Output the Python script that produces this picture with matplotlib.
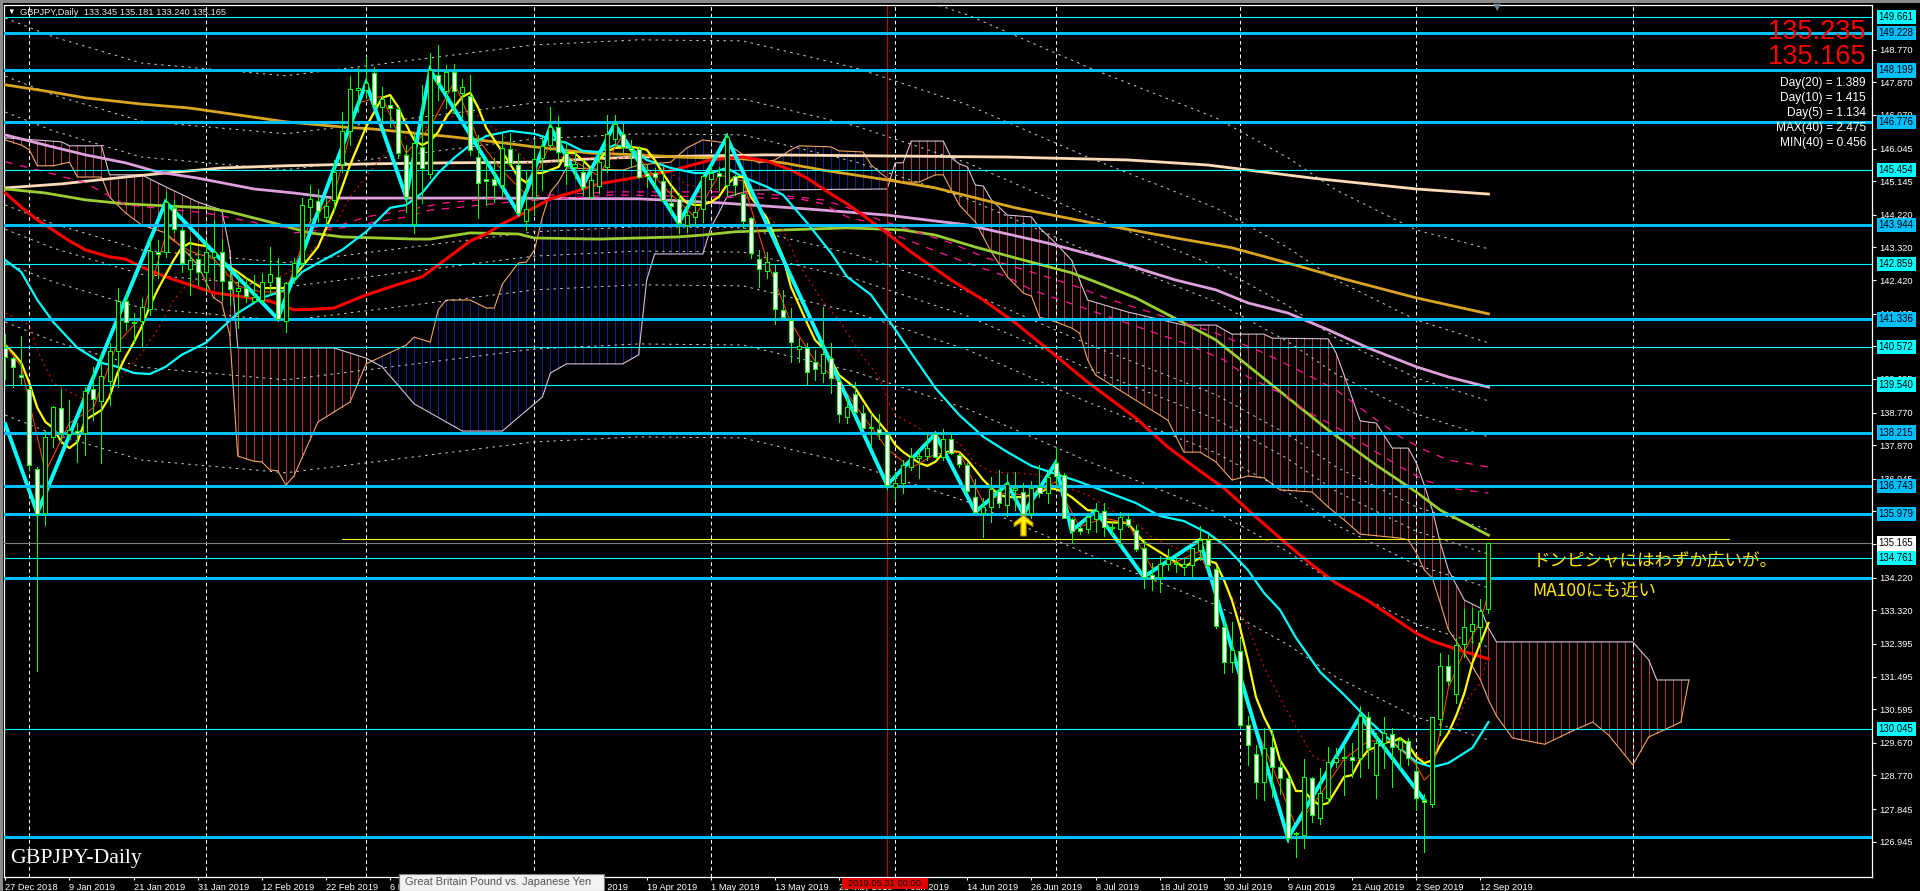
import numpy as np
import matplotlib
matplotlib.use('Agg')
import matplotlib.pyplot as plt
from matplotlib.path import Path
from matplotlib.patches import Rectangle

plt.rcParams['font.family'] = ['Liberation Sans', 'Noto Sans CJK JP', 'DejaVu Sans']

# daily candles, one value per bar
opens = [140.55,140.27,139.81,139.42,137.21,136.00,138.10,138.90,138.18,138.26,138.21,139.42,139.09,139.64,140.47,141.84,141.26,141.29,141.62,143.19,
143.19,144.41,143.80,142.73,143.00,142.64,143.06,143.19,142.40,142.12,142.20,141.84,141.87,142.37,142.51,141.29,142.51,142.89,144.43,144.60,
144.16,144.63,145.62,146.53,147.66,147.66,148.13,147.19,147.25,147.14,145.87,143.97,146.09,145.34,148.07,147.63,148.16,147.58,147.49,145.81,
145.21,145.21,145.04,146.03,145.59,144.05,144.71,145.79,146.14,146.64,145.92,145.54,145.40,144.71,145.01,145.54,146.31,146.45,146.06,146.03,
145.37,145.37,145.15,144.55,144.66,143.94,144.16,144.38,145.21,145.37,145.04,145.29,144.79,144.13,143.00,142.67,142.64,141.60,141.32,140.52,
140.55,140.16,139.86,140.27,139.64,138.65,139.28,138.76,138.37,138.32,138.18,136.72,136.83,137.27,137.52,137.57,138.18,137.55,138.04,137.60,
137.32,136.44,136.00,136.17,136.61,136.22,136.64,136.58,136.00,136.72,136.55,137.38,137.05,135.84,135.59,135.56,135.84,136.06,135.59,135.56,
135.84,135.53,135.04,134.29,134.24,134.60,134.60,134.51,134.57,134.98,135.26,134.46,132.86,131.90,132.20,130.16,129.36,128.59,129.55,129.00,
128.70,127.15,127.13,128.70,127.60,128.15,129.14,129.25,129.28,129.25,130.38,128.78,129.66,129.91,129.50,129.72,128.89,128.09,127.98,130.32,
131.78,131.01,132.39,132.75,132.86,133.345]
highs = [140.93,140.30,140.88,139.47,137.27,138.26,138.95,139.42,139.12,138.48,139.47,140.03,140.41,140.69,142.20,142.06,141.51,141.93,143.58,143.53,
144.85,144.63,143.86,143.61,143.25,143.53,144.08,143.55,142.70,142.51,142.51,142.56,142.62,143.33,143.03,142.37,143.03,144.68,145.04,144.93,
144.68,145.73,147.05,148.05,148.27,148.57,148.29,147.74,147.47,147.19,146.14,146.47,147.80,148.68,148.90,148.35,148.38,147.96,148.07,146.42,
145.81,145.79,146.45,146.47,145.90,145.45,146.28,146.36,147.19,146.94,146.20,145.95,145.73,145.51,145.95,146.98,146.98,146.72,146.28,146.12,
145.59,145.51,145.54,145.01,144.82,144.49,144.68,145.37,145.59,145.54,146.47,145.32,145.23,144.16,143.25,143.19,142.84,142.15,141.65,140.82,
140.69,140.49,141.68,140.69,139.67,139.17,139.61,138.98,138.76,138.73,138.21,137.13,137.46,137.79,137.77,138.21,138.21,138.32,138.21,137.66,
137.38,136.94,136.41,136.99,137.19,137.08,137.13,136.83,136.88,137.32,137.19,137.82,137.10,135.86,135.62,135.97,136.28,136.28,135.75,136.03,
136.00,135.67,135.26,134.62,134.82,135.01,134.84,134.76,135.04,135.64,135.40,134.51,133.05,133.00,132.56,130.41,129.61,130.08,130.05,129.25,
128.75,127.21,129.22,128.73,128.97,129.55,129.53,129.61,129.66,130.68,130.52,129.94,130.38,130.08,129.83,129.80,129.14,128.26,130.38,132.14,
132.09,132.56,133.36,133.38,133.63,135.181]
lows = [139.70,139.47,139.56,137.19,131.65,135.67,137.82,137.93,138.07,137.41,137.60,138.57,137.38,138.98,139.47,141.05,140.69,140.60,141.46,142.48,
143.06,143.75,142.64,142.01,142.29,142.09,142.42,141.87,141.73,141.10,141.82,141.82,141.79,142.01,141.32,140.99,142.34,142.78,144.02,144.02,
143.94,144.35,145.40,146.14,147.05,147.44,147.19,146.78,146.64,145.79,144.30,143.72,144.55,145.23,147.38,147.16,147.03,146.92,145.87,144.13,
144.49,144.57,144.71,145.59,144.25,143.80,144.21,144.90,146.01,145.67,145.07,145.23,144.77,144.69,144.82,145.40,146.14,145.95,145.54,145.23,
144.99,144.99,144.63,144.27,143.72,143.75,143.94,144.02,144.96,144.90,144.77,144.77,143.86,143.03,142.23,142.48,141.21,141.38,140.16,140.16,
139.56,139.67,139.61,139.31,138.51,138.48,138.79,138.34,137.88,138.04,136.64,136.36,136.55,137.19,136.97,137.46,137.55,137.46,137.63,137.27,
136.58,136.03,135.34,135.75,136.17,135.92,136.08,135.73,135.86,136.44,136.28,136.69,135.86,135.17,135.42,135.45,135.48,135.37,135.40,135.09,
135.62,134.95,133.93,133.88,133.82,134.43,134.38,134.29,134.24,134.70,134.49,132.83,131.59,131.62,130.10,129.06,128.15,128.09,128.17,128.26,
126.93,126.52,126.77,127.49,127.43,128.01,129.00,128.23,128.73,128.73,128.97,128.15,128.97,128.45,128.97,129.06,127.82,126.66,127.90,129.88,
131.26,130.77,132.03,132.42,132.36,133.240]
closes = [140.30,140.03,139.75,137.32,135.97,138.10,138.92,138.21,138.29,138.21,139.36,139.14,139.78,140.47,141.84,141.26,141.24,141.68,143.22,143.14,
144.57,143.83,142.89,142.97,142.64,143.19,143.19,142.40,142.18,142.20,141.98,141.95,142.37,142.59,141.35,142.34,142.89,144.49,144.66,144.33,
144.46,145.40,146.53,147.69,147.71,147.85,147.25,147.41,147.16,145.92,144.71,146.20,145.51,148.21,147.85,148.16,147.63,147.74,146.01,145.10,
145.15,145.04,146.06,145.65,144.27,144.38,145.76,146.12,146.64,145.95,145.56,145.62,144.99,145.18,145.67,146.45,146.72,146.09,146.01,145.26,
145.29,145.26,144.63,144.46,143.99,144.21,144.30,145.29,145.37,145.29,146.36,145.04,144.05,143.17,142.73,142.92,141.62,141.40,140.71,140.60,
139.89,139.97,140.38,139.72,138.73,138.92,138.79,138.34,138.34,138.21,136.77,136.83,137.32,137.55,137.57,137.79,137.55,138.04,137.66,137.35,
136.61,136.03,136.17,136.66,136.28,136.80,136.69,135.97,136.69,136.55,136.99,137.02,135.86,135.51,135.51,135.89,136.06,135.62,135.62,135.89,
135.67,135.01,134.24,134.18,134.60,134.73,134.62,134.60,135.04,135.26,134.57,132.89,131.90,132.23,130.16,129.61,128.59,129.53,129.00,128.70,
127.04,127.18,128.73,127.68,128.28,129.14,129.25,129.28,129.19,130.41,129.53,129.66,129.94,129.55,129.75,129.25,128.15,128.04,130.38,131.78,
131.37,132.36,132.86,132.94,133.30,135.165]

# zigzag vertices
zz_i = [0,4,20,34,45,50,53,64,68,72,76,84,90,110,116,121,125,127,131,133,136,142,149,160,169,177]
zz_p = [138.45,136.00,144.57,141.35,147.85,144.71,148.21,144.27,146.64,145.00,146.72,143.99,146.36,136.77,138.18,136.03,136.80,135.97,137.38,135.51,136.06,134.24,135.26,127.04,130.41,128.09]

# moving averages
ma_cyan_i = [0,2,4,6,9,12,14,16,18,20,22,25,27,29,32,35,37,39,42,45,48,50,52,54,56,58,60,63,66,68,70,72,74,76,78,80,83,86,88,90,92,95,97,100,103,105,108,110,113,116,119,122,125,128,131,134,137,141,144,147,150,152,155,157,159,161,164,167,170,173,176,178,180,183,185]
ma_cyan_p = [142.97,142.64,141.87,141.26,140.55,140.14,140.03,139.86,139.83,140.03,140.36,140.69,141.10,141.51,141.93,142.15,142.64,142.89,143.25,143.75,144.41,144.49,144.82,145.37,145.79,146.14,146.39,146.53,146.45,146.31,146.20,145.98,145.95,146.14,146.06,145.73,145.51,145.37,145.37,145.51,145.26,144.99,144.77,144.00,143.17,142.51,142.01,141.38,140.41,139.45,138.70,138.10,137.68,137.30,137.08,136.86,136.61,136.28,135.92,135.78,135.45,135.12,134.43,133.80,133.33,132.56,131.62,130.99,130.30,129.69,129.14,129.00,129.11,129.53,130.24]

ma_yellow_i = [0,1,2,3,4,5,6,7,8,9,10,11,12,13,14,15,16,17,18,19,20,21,22,23,24,25,26,27,28,29,30,31,32,33,34,35,36,37,39,41,43,45,47,48,49,50,51,52,53,54,55,56,57,58,59,60,62,64,65,66,67,69,70,71,72,73,74,75,76,78,79,80,81,82,83,84,85,86,87,88,89,90,91,92,93,95,97,98,100,101,102,103,104,106,108,110,111,112,114,115,116,117,118,119,120,121,122,123,124,125,127,128,129,130,131,132,133,135,136,137,140,142,145,147,149,151,152,153,154,155,156,157,158,159,160,161,162,163,164,165,166,167,168,169,170,171,172,173,174,175,176,177,178,179,180,181,182,183,184,185]
ma_yellow_p = [140.63,140.41,140.14,139.58,138.90,138.51,138.34,137.96,137.79,137.96,138.57,138.70,138.84,139.20,139.86,140.30,140.69,141.13,141.68,142.15,142.56,142.97,143.31,143.44,143.39,143.36,143.19,142.97,142.78,142.64,142.48,142.34,142.20,142.20,142.20,142.20,142.51,142.78,143.33,144.35,145.59,146.64,147.44,147.52,147.19,146.70,146.28,146.14,146.25,146.50,146.92,147.19,147.47,147.58,147.16,146.61,145.95,145.26,145.10,145.37,145.37,145.54,145.92,145.92,145.73,145.51,145.73,145.95,146.06,146.09,146.06,146.01,145.73,145.37,145.04,144.77,144.55,144.49,144.49,144.57,144.71,145.04,145.26,145.26,144.71,144.13,143.06,142.23,141.24,140.77,140.55,140.22,139.80,139.45,138.76,138.23,137.88,137.68,137.38,137.30,137.41,137.66,137.71,137.68,137.46,137.19,136.91,136.69,136.50,136.44,136.44,136.50,136.55,136.69,136.66,136.58,136.44,136.08,136.06,135.75,135.73,135.20,134.79,134.51,134.76,134.62,134.16,133.60,132.86,131.95,130.93,130.38,129.94,129.19,128.84,128.34,128.34,128.09,127.95,128.01,128.37,128.73,128.78,129.19,129.47,129.55,129.69,129.69,129.80,129.61,129.28,129.11,129.19,129.61,129.94,130.43,131.04,131.87,132.42,132.97]

ma_red_i = [0,2,4,8,10,13,15,17,20,23,26,29,33,36,39,41,45,48,52,55,58,60,62,65,68,71,74,79,83,88,92,95,98,100,103,105,109,113,118,122,126,130,135,141,145,149,152,156,160,163,166,170,176,178,181,185]
ma_red_p = [144.82,144.43,144.08,143.50,143.25,143.06,143.00,142.78,142.51,142.29,142.07,141.98,141.84,141.60,141.62,141.65,142.01,142.23,142.51,143.00,143.50,143.69,143.97,144.30,144.66,144.85,145.07,145.26,145.43,145.73,145.81,145.70,145.45,145.23,144.79,144.52,143.88,143.19,142.42,141.87,141.24,140.52,139.61,138.62,137.82,137.16,136.69,135.89,135.12,134.57,134.07,133.58,132.69,132.47,132.25,131.98]

ma_gold_i = [0,5,10,17,23,30,35,42,46,51,56,61,66,73,79,84,92,97,102,110,116,122,126,135,146,153,159,167,176,185]
ma_gold_p = [147.80,147.63,147.44,147.27,147.16,146.94,146.78,146.64,146.58,146.47,146.36,146.23,146.09,145.92,145.87,145.81,145.76,145.65,145.45,145.18,144.96,144.63,144.41,144.02,143.58,143.31,142.95,142.45,141.93,141.49]

ma_peach_i = [0,7,15,20,27,35,45,55,66,73,79,95,110,125,140,150,154,163,176,185]
ma_peach_p = [144.96,145.07,145.26,145.37,145.51,145.57,145.62,145.65,145.67,145.76,145.81,145.87,145.84,145.81,145.73,145.59,145.48,145.23,144.93,144.79]

ma_plum_i = [0,5,10,15,19,24,31,36,41,60,79,89,100,110,120,130,138,146,151,155,160,165,170,176,180,185]
ma_plum_p = [146.42,146.14,145.87,145.65,145.40,145.23,144.93,144.82,144.68,144.68,144.66,144.55,144.38,144.21,143.94,143.44,142.97,142.42,142.15,141.79,141.51,141.05,140.55,140.03,139.75,139.47]

ma_green_i = [0,5,10,15,25,28,33,38,42,51,53,58,64,66,74,79,84,87,91,97,105,112,116,121,126,133,136,141,147,151,158,165,171,176,179,185]
ma_green_p = [144.93,144.82,144.63,144.52,144.41,144.30,144.02,143.72,143.61,143.55,143.55,143.72,143.69,143.58,143.55,143.58,143.61,143.66,143.75,143.80,143.86,143.80,143.66,143.33,143.03,142.62,142.37,141.93,141.24,140.77,139.53,138.29,137.32,136.58,136.08,135.39]

# thin fast average and dashed average
fast_i = [0,2,5,8,11,14,17,20,23,26,29,32,35,38,41,44,47,50,53,56,59,62,65,68,71,74,77,80,83,86,89,92,95,98,101,104,107,110,113,116,119,122,125,128,131,134,137,140,143,146,149,152,155,158,161,164,167,170,173,176,177,178,180,182,184,185]
fast_p = [140.63,140.03,137.13,138.48,138.90,140.69,141.40,143.64,143.22,143.00,142.26,142.09,142.09,144.02,144.74,147.30,147.49,145.92,146.64,147.88,146.28,145.43,144.77,146.17,145.70,145.29,146.42,145.51,144.79,144.16,145.32,145.15,142.95,141.24,140.19,139.61,138.67,137.77,137.24,137.63,137.68,136.28,136.58,136.44,136.86,135.62,135.86,135.73,134.49,134.65,134.95,133.11,130.65,129.03,127.35,128.23,129.22,129.72,129.72,129.06,128.64,128.86,131.18,132.20,133.03,133.80]

dash_i = [0,3,4,6,8,10,13,15,17,19,21,23,28,32,36,38,41,43,46,48,50,53,58,62,66,70,75,80,85,90,93,97,99,102,104,105,107,109,110,111,114,115,119,121,123,126,129,130,135,138,141,143,146,149,151,153,155,157,160,163,164,169,172,175,177,181,182,184,185]
dash_p = [141.51,141.18,140.49,139.58,139.34,139.12,139.25,139.89,140.41,141.05,141.87,142.37,142.56,142.29,142.70,143.17,143.88,144.71,145.54,146.06,146.36,146.69,147.11,146.42,145.45,145.87,145.73,145.87,145.04,144.90,144.63,143.80,142.84,141.82,141.32,140.96,140.30,139.75,139.12,138.70,138.34,138.15,137.93,137.38,137.13,137.10,137.05,136.91,136.50,136.08,135.73,135.34,135.04,134.84,134.62,133.69,132.86,131.76,130.49,129.33,129.19,129.19,129.66,129.55,129.19,130.08,130.77,131.32,132.14]

pink_a_i = [0,5,10,15,25,34,41,45,50,55,63,76,90,96,102,106,109,113,118,122,125,128,133,138,151,157,162,166,171,174,177,180,185]
pink_a_p = [145.68,145.40,145.10,144.49,144.27,143.88,143.88,144.16,144.35,144.55,144.71,144.85,144.85,144.77,144.63,144.35,144.08,143.80,143.44,143.06,142.84,142.64,142.29,141.87,140.96,140.41,139.86,139.39,138.57,138.10,137.74,137.46,137.27]
pink_b_i = [36,42,50,53,56,63,76,99,102,105,108,111,115,120,125,128,147,152,155,160,162,166,174,177,180,185]
pink_b_p = [143.72,143.86,144.16,144.35,144.41,144.57,144.77,144.66,144.52,144.16,144.00,143.66,143.31,142.89,142.51,142.15,140.69,140.22,139.75,139.20,138.84,138.37,137.27,136.91,136.69,136.55]

# ichimoku cloud, runs past the last candle
span_a_i = [0,2,3,4,6,8,9,12,13,15,17,20,22,24,26,27,28,29,31,32,33,34,35,36,39,43,45,50,51,53,54,55,58,60,61,62,64,65,66,67,68,69,70,77,79,83,85,87,90,92,94,96,98,99,103,104,107,108,109,110,112,114,116,117,118,119,121,123,125,127,128,129,131,133,134,135,136,145,147,149,151,153,155,157,159,163,165,167,169,174,175,176,177,178,179,180,182,184,185,186,188,192,196,198,200,203,205,209,210]
span_a_p = [146.28,146.14,146.01,145.57,145.57,145.67,145.26,145.26,144.71,144.27,143.94,143.72,143.33,142.84,141.93,141.79,140.91,137.57,137.43,137.41,137.19,137.16,136.77,137.02,138.51,139.06,140.11,140.63,140.85,140.71,141.60,141.87,141.87,141.65,141.65,142.31,142.89,142.92,143.25,144.16,144.85,145.12,145.51,145.45,145.59,145.67,146.06,146.28,146.20,145.87,145.65,145.73,146.01,146.12,146.09,145.98,145.95,145.59,145.40,145.23,145.12,145.12,145.32,145.32,144.90,144.49,144.02,143.19,142.51,142.06,141.98,141.40,141.27,141.10,140.96,140.22,139.80,138.56,137.68,137.68,137.41,136.91,137.02,136.97,136.64,136.58,136.17,135.81,135.42,135.31,135.26,134.90,134.43,134.21,133.52,132.78,132.14,131.40,130.85,130.41,129.80,129.63,130.05,130.24,129.88,129.06,129.83,130.24,131.40]
span_b_i = [0,7,8,12,13,17,20,24,27,28,29,41,45,47,51,57,62,67,68,70,77,79,80,81,87,88,89,90,93,110,111,112,113,117,118,119,120,121,122,123,125,128,129,131,133,134,135,140,147,151,153,157,158,165,166,167,169,171,173,175,176,177,178,179,180,182,184,185,186,203,205,206,210]
span_b_p = [146.34,146.23,146.12,146.12,145.32,145.32,144.99,144.57,144.35,143.25,140.55,140.55,140.27,140.03,139.01,138.26,138.26,139.20,139.86,140.11,140.11,140.36,142.42,143.14,143.14,143.86,144.27,144.71,144.90,144.93,145.65,145.65,146.25,146.25,145.79,145.62,145.54,145.04,145.01,144.63,144.21,144.16,143.86,143.44,142.97,142.42,141.87,141.54,141.18,141.18,140.93,140.93,140.82,140.80,140.41,139.80,138.54,138.48,137.79,137.79,137.38,136.77,136.08,135.17,134.43,133.60,133.38,132.83,132.45,132.45,131.95,131.40,131.40]

# envelope bands, same bars for every band
band_i = [0,6,17,35,46,66,79,92,106,120,135,151,160,166,176,185]
band_0 = [152.12,151.60,150.88,150.53,150.83,151.38,151.52,151.49,150.75,149.73,148.29,146.89,145.79,144.90,143.80,143.28]
band_1 = [149.64,149.12,148.40,148.05,148.35,148.90,149.04,149.01,148.27,147.25,145.81,144.41,143.31,142.42,141.32,140.69]
band_2 = [148.04,147.52,146.80,146.45,146.75,147.30,147.44,147.41,146.67,145.65,144.21,142.81,141.71,140.82,139.72,139.09]
band_3 = [147.05,146.53,145.81,145.46,145.76,146.31,146.45,146.42,145.68,144.66,143.22,141.82,140.72,139.83,138.73,138.10]
band_4 = [144.49,143.97,143.25,142.90,143.20,143.75,143.89,143.86,143.12,142.10,140.66,139.26,138.16,137.27,136.17,135.54]
band_5 = [143.82,143.30,142.58,142.23,142.53,143.08,143.22,143.19,142.45,141.43,139.99,138.59,137.49,136.60,135.50,134.87]
band_6 = [142.89,142.37,141.65,141.30,141.60,142.15,142.29,142.26,141.52,140.50,139.06,137.66,136.56,135.67,134.57,133.94]
band_7 = [141.26,140.74,140.02,139.67,139.97,140.52,140.66,140.63,139.89,138.87,137.43,136.03,134.93,134.04,132.94,132.31]
band_8 = [138.70,138.18,137.46,137.11,137.41,137.96,138.10,138.07,137.33,136.31,134.87,133.47,132.37,131.48,130.38,129.75]

# horizontal levels
thick_levels = [149.228,148.199,146.776,143.944,141.336,138.215,136.743,135.979]
thick_unlabelled = [134.220,127.070]
thin_levels = [149.661,145.454,142.859,140.572,139.540,134.761,130.045]
last_price = 135.165
target_price = 135.29
target_start = 42
target_end = 215

month_bars = [3,25,45,66,88,111,131,154,176,203]
marker_bar = 110
arrow_bar = 127
arrow_price = 135.68

y_ticks = [148.770,147.870,146.970,146.045,145.145,144.220,143.320,142.420,141.495,140.595,139.695,138.770,137.870,136.945,136.045,135.145,134.220,133.320,132.395,131.495,130.595,129.670,128.770,127.845,126.945]
# 18 Mar and 28 Mar sit fully under the tooltip
x_labels = ['27 Dec 2018','9 Jan 2019','21 Jan 2019','31 Jan 2019','12 Feb 2019','22 Feb 2019','6 Mar 2019','','','9 Apr 2019','19 Apr 2019','1 May 2019','13 May 2019','23 May 2019','4 Jun 2019','14 Jun 2019','26 Jun 2019','8 Jul 2019','18 Jul 2019','30 Jul 2019','9 Aug 2019','21 Aug 2019','2 Sep 2019','12 Sep 2019']
x_ticks = [0,8,16,24,32,40,48,56,64,72,80,88,96,104,112,120,128,136,144,152,160,168,176,184]

info_lines = ['Day(20) = 1.389','Day(10) = 1.415','Day(5) = 1.134','MAX(40) = 2.475','MIN(40) = 0.456']

W, H = 1920, 891
fig = plt.figure(figsize=(W/100, H/100), dpi=100, facecolor='black')
ax = fig.add_axes([4/W, 1-877.3/H, 1868/W, 872.6/H], facecolor='black')
ax.set_xlim(-0.16, 232.84)
ax.set_ylim(125.963, 150.008)

# cloud hatching, one line per bar
cloud_bars = np.arange(0, 211)
a_vals = np.interp(cloud_bars, span_a_i, span_a_p)
b_vals = np.interp(cloud_bars, span_b_i, span_b_p)
hatch_colors = ['#20208c' if a > b else '#a83a3a' for a, b in zip(a_vals, b_vals)]
ax.vlines(cloud_bars, np.minimum(a_vals, b_vals), np.maximum(a_vals, b_vals), colors=hatch_colors, lw=0.5, antialiased=False, zorder=1)
ax.plot(span_a_i, span_a_p, color='#f4a460', lw=0.8, zorder=2)
ax.plot(span_b_i, span_b_p, color='#d8bfd8', lw=0.8, zorder=2)

# grid
for b in month_bars:
    ax.axvline(b, color='white', lw=0.75, ls=(0, (3.5, 3)), zorder=1.5)
ax.axvline(marker_bar, color='#d00000', lw=0.75, zorder=2)

# envelope bands
for band in [band_0, band_1, band_2, band_3, band_4, band_5, band_6, band_7, band_8]:
    ax.plot(band_i, band, color='#d0d0d0', lw=0.7, ls=(0, (2.5, 4.5)), zorder=2)

# averages
ax.plot(ma_peach_i, ma_peach_p, color='#ffdab9', lw=2.0, zorder=3)
ax.plot(ma_gold_i, ma_gold_p, color='#daa520', lw=2.0, zorder=3)
ax.plot(ma_plum_i, ma_plum_p, color='#dda0dd', lw=2.0, zorder=3)
ax.plot(ma_green_i, ma_green_p, color='#9acd32', lw=2.0, zorder=3)
ax.plot(pink_a_i, pink_a_p, color='#ff1493', lw=0.9, ls=(0, (6, 6)), zorder=3)
ax.plot(pink_b_i, pink_b_p, color='#ff1493', lw=0.9, ls=(0, (6, 6)), zorder=3)
ax.plot(ma_red_i, ma_red_p, color='#ff0000', lw=2.2, zorder=3)
ax.plot(dash_i, dash_p, color='#e01010', lw=0.75, ls=(0, (2, 3.5)), zorder=3)
ax.plot(ma_cyan_i, ma_cyan_p, color='#00ffff', lw=1.6, zorder=3.1)
ax.plot(ma_yellow_i, ma_yellow_p, color='#ffff00', lw=1.6, zorder=3.1)
ax.plot(fast_i, fast_p, color='#ff4500', lw=0.75, zorder=3.2)
ax.plot(zz_i, zz_p, color='#00ffff', lw=2.8, zorder=3.3, solid_joinstyle='miter')

# levels
for lv in thick_levels + thick_unlabelled:
    ax.axhline(lv, color='#00bfff', lw=2.2, zorder=4)
for lv in thin_levels:
    ax.axhline(lv, color='#00ffff', lw=0.8, zorder=4)
ax.axhline(last_price, color='#808080', lw=0.8, zorder=4)
ax.plot([target_start, target_end], [target_price, target_price], color='#ffff00', lw=0.8, zorder=4)

# candles on top of everything
bars = np.arange(len(opens))
op = np.array(opens)
cl = np.array(closes)
ax.vlines(bars, lows, highs, colors='#00ff00', lw=0.5, antialiased=False, zorder=5)
up = cl >= op
ax.bar(bars[up], (cl-op)[up], bottom=op[up], width=0.5, facecolor='black', edgecolor='#00ff00', lw=0.5, antialiased=False, zorder=6)
ax.bar(bars[~up], (op-cl)[~up], bottom=cl[~up], width=0.5, facecolor='white', edgecolor='#00ff00', lw=0.5, antialiased=False, zorder=6)

# yellow up arrow below the swing low
arrow = Path([(0,1),(0.9,0.25),(0.9,-0.1),(0.25,0.3),(0.25,-1),(-0.25,-1),(-0.25,0.3),(-0.9,-0.1),(-0.9,0.25),(0,1)], closed=True)
ax.plot([arrow_bar], [arrow_price], marker=arrow, ms=15, mfc='#ffee00', mec='#c09000', mew=0.8, zorder=7)

# axes
for s in ax.spines.values():
    s.set_color('white')
    s.set_linewidth(0.9)
ax.yaxis.tick_right()
ax.set_yticks(y_ticks)
ax.set_yticklabels(['%.3f' % t for t in y_ticks])
ax.set_xticks(x_ticks)
ax.set_xticklabels(x_labels, ha='left')
ax.tick_params(axis='y', colors='white', length=3, width=0.8, labelsize=6.7, pad=2.5)
ax.tick_params(axis='x', colors='white', length=2.5, width=0.8, labelsize=6.7, pad=1.5)

# price boxes on the right
box_tr = ax.get_yaxis_transform()
box_font = dict(fontsize=6.9, color='black', va='center', ha='left', transform=box_tr, clip_on=False, zorder=20)
for lv in thick_levels:
    ax.text(1.0036, lv, '%.3f' % lv, bbox=dict(fc='#00bfff', ec='none', pad=1.6), **box_font)
for lv in thin_levels:
    ax.text(1.0036, lv, '%.3f' % lv, bbox=dict(fc='#00ffff', ec='none', pad=1.6), **box_font)
ax.text(1.0036, last_price, '%.3f' % last_price, bbox=dict(fc='white', ec='none', pad=1.6), **box_font)

# top right read-outs
ax.text(1866/W, 1-32/H, '135.235', transform=fig.transFigure, color='#ff0000', fontsize=19.5, ha='right', va='center', zorder=21)
ax.text(1866/W, 1-57/H, '135.165', transform=fig.transFigure, color='#ff0000', fontsize=19.5, ha='right', va='center', zorder=21)
for n, line in enumerate(info_lines):
    ax.text(1866/W, 1-(83+15*n)/H, line, transform=fig.transFigure, color='white', fontsize=8.6, ha='right', va='center', zorder=21)

# text on the chart
ax.text(11/W, 1-12.5/H, '\u25bc', transform=fig.transFigure, color='white', fontsize=5.5, ha='center', va='center', zorder=21)
ax.text(20/W, 1-12.5/H, 'GBPJPY,Daily  133.345 135.181 133.240 135.165', transform=fig.transFigure, color='#e8e8e8', fontsize=6.7, ha='left', va='center', zorder=21)
ax.text(10/W, 1-858/H, 'GBPJPY-Daily', transform=fig.transFigure, color='white', family='Liberation Serif', fontsize=15.7, ha='left', va='center', zorder=21)
jp_font = ['Noto Sans CJK JP', 'DejaVu Sans']
ax.text(1533/W, 1-560/H, 'ドンピシャにはわずか広いが。', transform=fig.transFigure, color='#ffe600', family=jp_font, fontsize=12.6, ha='left', va='center', zorder=21)
ax.text(1532/W, 1-592/H, 'MA100にも近い', transform=fig.transFigure, color='#ffe600', family=jp_font, fontsize=12.6, ha='left', va='center', zorder=21)

# chrome around the chart
fig.add_artist(Rectangle((0, 1-3/H), 1, 3/H, transform=fig.transFigure, fc='#8a8a8a', ec='none'))
fig.add_artist(Rectangle((0, 0), 3/W, 1, transform=fig.transFigure, fc='#8a8a8a', ec='none'))
fig.add_artist(Rectangle((399/W, 0), 205/W, 17/H, transform=fig.transFigure, fc='#f2f2f2', ec='#808080', lw=0.8, zorder=30))
fig.text(405/W, 1-882/H, 'Great Britain Pound vs. Japanese Yen', color='#555555', fontsize=7.9, ha='left', va='center', zorder=31)
fig.add_artist(Rectangle((842/W, 1-889/H), 86/W, 11/H, transform=fig.transFigure, fc='#e00000', ec='none', zorder=30))
fig.text(885/W, 1-883.5/H, '2019.05.31 00:00', color='#101010', fontsize=6.7, ha='center', va='center', zorder=31)
fig.text(1497/W, 1-7.5/H, '\u25bc', color='#708090', fontsize=9, ha='center', va='center', zorder=31)

fig.savefig('out.png', dpi=100, facecolor='black')
